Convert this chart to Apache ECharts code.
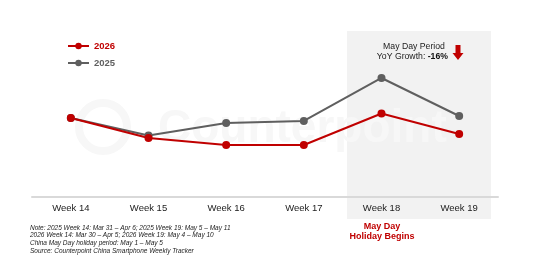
<!DOCTYPE html>
<html>
<head>
<meta charset="utf-8">
<script src="https://cdn.jsdelivr.net/npm/echarts@6/dist/echarts.min.js"></script>
<style>
  html, body { margin: 0; padding: 0; background: #fff; }
  #chart { width: 541px; height: 271px; }
</style>
</head>
<body>
<div id="chart"></div>
<script>
const weeks = ['Week 14', 'Week 15', 'Week 16', 'Week 17', 'Week 18', 'Week 19']
const sales2026 = [47.6, 35.5, 31.3, 31.3, 50.3, 38.0]
const sales2025 = [47.6, 37.0, 44.6, 45.8, 71.7, 48.8]
const notes = [
  'Note: 2025 Week 14: Mar 31 – Apr 6; 2025 Week 19: May 5 – May 11',
  '2026 Week 14: Mar 30 – Apr 5; 2026 Week 19: May 4 – May 10',
  'China May Day holiday period: May 1 – May 5',
  'Source: Counterpoint China Smartphone Weekly Tracker'
]

const RED = '#c00000'
const GREY = '#5f5f5f'
const FONT = 'Arial, Liberation Sans, sans-serif'
const chart = echarts.init(document.getElementById('chart'))

const option = {
  animation: false,
  textStyle: { fontFamily: FONT },
  grid: { left: 32, right: 43, top: 31, bottom: 74 },
  legend: {
    orient: 'vertical',
    left: 62,
    top: 36,
    itemWidth: 21,
    itemHeight: 8,
    itemGap: 7,
    data: ['2026', '2025'],
    formatter: function (name) {
      return name === '2026' ? '{r|' + name + '}' : '{g|' + name + '}'
    },
    textStyle: {
      rich: {
        r: { color: RED, fontSize: 9.5, fontWeight: 'bold' },
        g: { color: GREY, fontSize: 9.5, fontWeight: 'bold' }
      }
    }
  },
  xAxis: {
    type: 'category',
    data: weeks,
    axisLine: { lineStyle: { color: '#d9d9d9', width: 2 } },
    axisTick: { show: false },
    axisLabel: { color: '#222', fontSize: 9.5, margin: 6 }
  },
  yAxis: {
    type: 'value',
    min: 0,
    max: 100,
    show: false,
    splitLine: { show: false }
  },
  graphic: [
    {
      type: 'rect',
      z: -10,
      shape: { x: 347, y: 31, width: 144, height: 188 },
      style: { fill: '#f2f2f2' }
    },
    {
      type: 'circle',
      z: -9,
      shape: { cx: 103, cy: 127, r: 24 },
      style: { fill: null, stroke: '#f7f7f7', lineWidth: 8 }
    },
    {
      type: 'text',
      z: -9,
      x: 158, y: 106,
      style: { text: 'Counterpoint', fill: '#f7f7f7', font: 'bold 46px ' + FONT }
    },
    {
      type: 'text', x: 382, y: 221,
      style: { text: 'May Day\nHoliday Begins', fill: RED, font: 'bold 9px ' + FONT, align: 'center', lineHeight: 10.5 }
    },
    {
      type: 'text', x: 414, y: 42,
      style: { text: 'May Day Period', fill: '#222', font: '8.7px ' + FONT, align: 'center' }
    },
    {
      type: 'text', x: 448, y: 52,
      style: {
        text: '{n|YoY Growth: }{b|-16%}', align: 'right',
        rich: {
          n: { fill: '#222', font: '8.7px ' + FONT },
          b: { fill: '#111', font: 'bold 8.7px ' + FONT }
        }
      }
    },
    {
      type: 'polygon',
      shape: { points: [[455.5, 45], [460.5, 45], [460.5, 53], [463.5, 53], [458, 60], [452.5, 53], [455.5, 53]] },
      style: { fill: RED }
    },
    {
      type: 'text', x: 30, y: 224,
      style: { text: notes.join('\n'), fill: '#222', font: 'italic 6.5px ' + FONT, lineHeight: 7.7 }
    }
  ],
  series: [
    {
      name: '2025',
      type: 'line',
      data: sales2025,
      symbol: 'circle',
      symbolSize: 8,
      lineStyle: { color: GREY, width: 2 },
      itemStyle: { color: GREY }
    },
    {
      name: '2026',
      type: 'line',
      data: sales2026,
      symbol: 'circle',
      symbolSize: 8,
      lineStyle: { color: RED, width: 2 },
      itemStyle: { color: RED }
    }
  ]
}
chart.setOption(option)
</script>
</body>
</html>
